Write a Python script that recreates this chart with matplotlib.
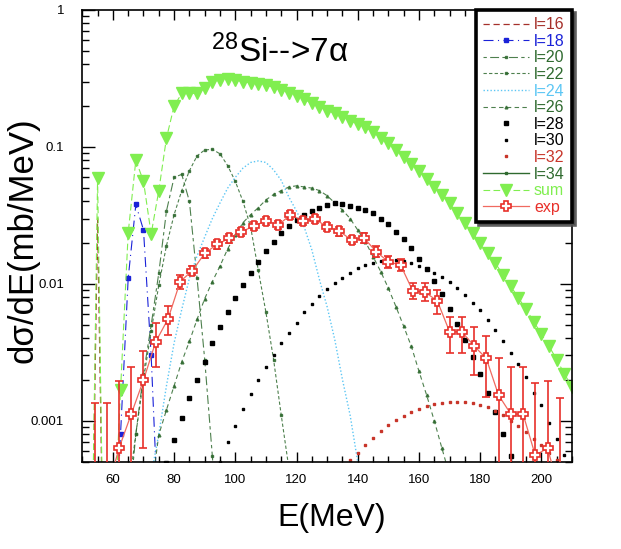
import matplotlib
matplotlib.use("Agg")
import matplotlib.pyplot as plt
from matplotlib.ticker import MultipleLocator, FixedLocator, FixedFormatter, NullFormatter, LogLocator

plt.rcParams['font.family'] = ['Liberation Sans', 'DejaVu Sans']
plt.rcParams['mathtext.fontset'] = 'custom'
plt.rcParams['mathtext.rm'] = 'Liberation Sans'
plt.rcParams['mathtext.default'] = 'regular'

# ---- data (E in MeV, dsigma/dE in mb/MeV) ----
l16_E = [52.5, 55, 57.5]
l16 = [1e-5, 0.030, 1e-5]

l18_E = [60, 62.5, 65, 67.5, 70, 72.5, 75]
l18 = [5e-5, 8e-4, 0.011, 0.038, 0.0247, 0.003, 1.5e-4]

l20_E = [65, 67.5, 70, 72.5, 75, 77.5, 80, 82.5, 85, 87.5, 90, 92.5, 95]
l20 = [2e-4, 8e-4, 0.0022, 0.005, 0.012, 0.034, 0.060, 0.063, 0.040, 0.011, 0.0028, 5.5e-4, 8e-5]

l22_E = [65, 67.5, 70, 72.5, 75, 77.5, 80, 82.5, 85, 87.5, 90, 92.5, 95, 97.5,
         100, 102.5, 105, 107.5, 110, 112.5, 115, 117.5]
l22 = [3e-4, 8e-4, 0.002, 0.0045, 0.0098, 0.019, 0.032, 0.048, 0.067, 0.086, 0.095,
       0.096, 0.089, 0.073, 0.056, 0.040, 0.026, 0.0126, 0.0062, 0.0028, 0.0011, 4.5e-4]

l24_E = [72.5, 75, 77.5, 80, 82.5, 85, 87.5, 90, 92.5, 95, 97.5, 100, 102.5, 105,
         107.5, 110, 112.5, 115, 117.5, 120, 122.5, 125, 127.5, 130, 132.5, 135, 137.5, 140]
l24 = [4e-4, 8e-4, 0.0018, 0.0037, 0.0065, 0.011, 0.016, 0.022, 0.030, 0.039, 0.050,
       0.060, 0.070, 0.077, 0.079, 0.077, 0.068, 0.057, 0.043, 0.034, 0.026, 0.0177,
       0.0107, 0.0068, 0.0039, 0.0020, 0.0011, 5e-4]

l26_E = [72.5, 75, 77.5, 80, 82.5, 85, 87.5, 90, 92.5, 95, 97.5, 100, 102.5, 105,
         107.5, 110, 112.5, 115, 117.5, 120, 122.5, 125, 127.5, 130, 132.5, 135, 137.5,
         140, 142.5, 145, 147.5, 150, 152.5, 155, 157.5, 160, 162.5, 165, 167.5, 170]
l26 = [3e-4, 7.9e-4, 0.0012, 0.0018, 0.0027, 0.0038, 0.0055, 0.0078, 0.0104, 0.0135,
       0.018, 0.0227, 0.028, 0.032, 0.036, 0.041, 0.045, 0.048, 0.051, 0.052, 0.051,
       0.050, 0.048, 0.044, 0.039, 0.0346, 0.030, 0.0247, 0.0203, 0.0158, 0.0123,
       0.0093, 0.0068, 0.0049, 0.0035, 0.0023, 0.00154, 0.0010, 6.3e-4, 4e-4]

l28_E = [77.5, 80, 82.5, 85, 87.5, 90, 92.5, 95, 97.5, 100, 102.5, 105, 107.5, 110,
         112.5, 115, 117.5, 120, 122.5, 125, 127.5, 130, 132.5, 135, 137.5, 140, 142.5,
         145, 147.5, 150, 152.5, 155, 157.5, 160, 162.5, 165, 167.5, 170, 172.5, 175,
         177.5, 180, 182.5, 185, 187.5, 190, 192.5]
l28 = [4.9e-4, 7.2e-4, 1.04e-3, 1.46e-3, 2.0e-3, 2.7e-3, 3.7e-3, 4.8e-3, 6.2e-3, 7.9e-3,
       9.8e-3, 0.0121, 0.0145, 0.0175, 0.0203, 0.0234, 0.0264, 0.0292, 0.0318, 0.034,
       0.036, 0.0376, 0.0387, 0.0382, 0.0372, 0.036, 0.0346, 0.0327, 0.030, 0.0273,
       0.024, 0.0211, 0.0182, 0.0153, 0.0128, 0.0105, 0.0085, 0.0066, 0.0051, 0.0039,
       0.0029, 0.0022, 0.0016, 0.00115, 8e-4, 5.5e-4, 3.8e-4]

l30_E = [95, 97.5, 100, 102.5, 105, 107.5, 110, 112.5, 115, 117.5, 120, 122.5, 125,
         127.5, 130, 132.5, 135, 137.5, 140, 142.5, 145, 147.5, 150, 152.5, 155, 157.5,
         160, 162.5, 165, 167.5, 170, 172.5, 175, 177.5, 180, 182.5, 185, 187.5, 190,
         192.5, 195, 197.5, 200, 202.5, 205, 207.5, 210]
l30 = [5e-4, 7e-4, 9.2e-4, 1.21e-3, 1.56e-3, 2.0e-3, 2.45e-3, 3.0e-3, 3.7e-3, 4.4e-3,
       5.2e-3, 6.2e-3, 7.1e-3, 8.1e-3, 9.2e-3, 0.0101, 0.0111, 0.0121, 0.013, 0.0137,
       0.0143, 0.0147, 0.015, 0.015, 0.0148, 0.0143, 0.0136, 0.0128, 0.012, 0.0113,
       0.0103, 0.0093, 0.0083, 0.0073, 0.0064, 0.0054, 0.0046, 0.0038, 0.0031, 0.0026,
       0.0021, 0.0016, 0.0013, 9.7e-4, 7.4e-4, 5.6e-4, 4.3e-4]

l32_E = [135, 137.5, 140, 142.5, 145, 147.5, 150, 152.5, 155, 157.5, 160, 162.5, 165,
         167.5, 170, 172.5, 175, 177.5, 180, 182.5, 185, 187.5, 190, 192.5, 195, 197.5,
         200, 202.5, 205, 207.5]
l32 = [4e-4, 5.2e-4, 5.8e-4, 6.7e-4, 7.5e-4, 8.4e-4, 9.3e-4, 1.01e-3, 1.08e-3, 1.15e-3,
       1.22e-3, 1.28e-3, 1.32e-3, 1.35e-3, 1.38e-3, 1.38e-3, 1.38e-3, 1.34e-3, 1.30e-3,
       1.27e-3, 1.18e-3, 1.10e-3, 1.0e-3, 9.1e-4, 8.3e-4, 7.4e-4, 6.6e-4, 5.8e-4,
       5.2e-4, 4.6e-4]

# l=34 stays below the lower limit of the plot
l34_E = [170, 180, 190, 200, 210]
l34 = [1.5e-4, 2.2e-4, 2.6e-4, 2.4e-4, 2.0e-4]

sum_E = [52.5, 55, 57.5, 60, 62.5, 65, 67.5, 70, 72.5, 75, 77.5, 80, 82.5, 85, 87.5,
         90, 92.5, 95, 97.5, 100, 102.5, 105, 107.5, 110, 112.5, 115, 117.5, 120, 122.5,
         125, 127.5, 130, 132.5, 135, 137.5, 140, 142.5, 145, 147.5, 150, 152.5, 155,
         157.5, 160, 162.5, 165, 167.5, 170, 172.5, 175, 177.5, 180, 182.5, 185, 187.5,
         190, 192.5, 195, 197.5, 200, 202.5, 205, 207.5, 210]
sum_vals = [1e-5, 0.059, 1e-5, 1e-4, 0.00168, 0.0236, 0.080, 0.056, 0.0231, 0.048,
            0.116, 0.199, 0.246, 0.246, 0.246, 0.268, 0.300, 0.308, 0.313, 0.308, 0.300,
            0.294, 0.290, 0.283, 0.272, 0.260, 0.249, 0.235, 0.223, 0.208, 0.197, 0.184,
            0.176, 0.164, 0.155, 0.147, 0.139, 0.129, 0.116, 0.106, 0.095, 0.084, 0.075,
            0.0667, 0.058, 0.0507, 0.0445, 0.039, 0.0327, 0.0277, 0.0234, 0.0199, 0.0167,
            0.0141, 0.0116, 0.0096, 0.0079, 0.0065, 0.0053, 0.0043, 0.0035, 0.0028,
            0.0022, 0.00177]

exp_E = [54, 58, 62, 66, 70, 74, 78, 82, 86, 90, 94, 98, 102, 106, 110, 114, 118, 122,
         126, 130, 134, 138, 142, 146, 150, 154, 158, 162, 166, 170, 174, 178, 182, 186,
         190, 194, 198, 202, 206]
exp_vals = [3e-4, 3e-4, 6.3e-4, 0.00112, 0.00198, 0.00378, 0.00553, 0.0104, 0.0125,
            0.0167, 0.0194, 0.0215, 0.024, 0.0264, 0.0289, 0.0269, 0.0318, 0.0289, 0.0297,
            0.0261, 0.0242, 0.0209, 0.0217, 0.0172, 0.0145, 0.0137, 0.00886, 0.0087,
            0.0075, 0.00447, 0.00447, 0.00352, 0.00285, 0.00154, 0.00112, 0.00112,
            5.6e-4, 6.3e-4, 3e-4]
exp_lo = [1e-5, 1e-5, 1e-5, 1e-5, 6.3e-4, 0.00245, 0.0042, 0.0091, 0.0116, 0.0155,
          0.018, 0.020, 0.0224, 0.0246, 0.0269, 0.025, 0.0296, 0.0269, 0.0276, 0.0243,
          0.0225, 0.0194, 0.020, 0.0157, 0.0131, 0.0124, 0.0077, 0.0075, 0.0060,
          0.00315, 0.00315, 0.00216, 0.0015, 1e-5, 1e-5, 1e-5, 1e-5, 1e-5, 1e-5]
exp_hi = [0.00134, 0.00134, 0.00196, 0.00245, 0.00325, 0.0052, 0.0069, 0.0117, 0.0135,
          0.0179, 0.0208, 0.023, 0.0256, 0.0282, 0.0309, 0.0288, 0.034, 0.0309, 0.0318,
          0.0279, 0.0259, 0.0224, 0.0234, 0.0188, 0.016, 0.0151, 0.0102, 0.0101, 0.009,
          0.0057, 0.0057, 0.0048, 0.00417, 0.00285, 0.00245, 0.00245, 0.00188, 0.00196,
          0.00146]

DKGREEN = '#2f6a2f'

fig = plt.figure(figsize=(6.21, 5.49), dpi=100)
ax = fig.add_axes([0.1325, 0.1585, 0.7886, 0.8233])

ax.plot(l16_E, l16, color='#a5302a', lw=0.9, ls=(0, (5, 3)), label='l=16')
ax.plot(l18_E, l18, color='#1a22d8', lw=0.8, ls=(0, (9, 4, 1, 4)), marker='s', ms=2.5, label='l=18')
ax.plot(l20_E, l20, color=DKGREEN, lw=0.8, ls=(0, (3, 3, 8, 3)), marker='s', ms=2, alpha=0.85, label='l=20')
ax.plot(l22_E, l22, color=DKGREEN, lw=0.8, ls=(0, (3, 2)), marker='s', ms=2, alpha=0.85, label='l=22')
ax.plot(l24_E, l24, color='#5cc6f4', lw=1.0, ls=(0, (1, 1.5)), label='l=24')
ax.plot(l26_E, l26, color=DKGREEN, lw=0.8, ls=(0, (4, 3)), marker='^', ms=2, alpha=0.85, label='l=26')
ax.plot(l28_E, l28, color='black', ls='none', marker='s', ms=2.8, label='l=28')
ax.plot(l30_E, l30, color='black', ls='none', marker='s', ms=2.0, label='l=30')
ax.plot(l32_E, l32, color='#c8352a', ls='none', marker='s', ms=1.8, label='l=32')
ax.plot(l34_E, l34, color=DKGREEN, lw=1.0, marker='s', ms=2, label='l=34')
ax.plot(sum_E, sum_vals, color='#80ee50', lw=0.8, ls=(0, (6, 3)), marker='v', ms=8,
        mec='#80ee50', label='sum')

yerr = [[v - lo for v, lo in zip(exp_vals, exp_lo)],
        [hi - v for v, hi in zip(exp_vals, exp_hi)]]
ax.errorbar(exp_E, exp_vals, yerr=yerr, fmt='none', ecolor='#e8302a', elinewidth=1.2,
            capsize=3, capthick=1.2, zorder=4)
ax.plot(exp_E, exp_vals, color='#f06a60', lw=0.9, marker='P', ms=7.5, mfc='white',
        mec='#e8302a', mew=1.2, zorder=5, label='exp')

ax.set_yscale('log')
ax.set_xlim(50, 210)
ax.set_ylim(5e-4, 1)

ax.xaxis.set_major_locator(FixedLocator([60, 80, 100, 120, 140, 160, 180, 200]))
ax.xaxis.set_minor_locator(MultipleLocator(5))
ax.yaxis.set_major_locator(FixedLocator([0.001, 0.01, 0.1, 1]))
ax.yaxis.set_major_formatter(FixedFormatter(['0.001', '0.01', '0.1', '1']))
ax.yaxis.set_minor_locator(LogLocator(base=10, subs=range(2, 10)))
ax.yaxis.set_minor_formatter(NullFormatter())

ax.tick_params(which='both', direction='in', top=True, right=True, width=1.0)
ax.tick_params(axis='x', which='major', length=7, pad=9, labelsize=9.5)
ax.tick_params(axis='x', which='minor', length=4.5)
ax.tick_params(axis='y', which='major', length=9, pad=13, labelsize=9.5)
ax.tick_params(axis='y', which='minor', length=5)
for sp in ax.spines.values():
    sp.set_linewidth(1.2)

ax.text(0.404, 0.885, r'$^{28}$Si-->7α', transform=ax.transAxes, ha='center',
        va='baseline', fontsize=24)

fig.text(332 / 621, 1 - 518 / 549, 'E(MeV)', ha='center', va='center', fontsize=23)
fig.text(23 / 621, 1 - 240 / 549, 'dσ/dE(mb/MeV)', ha='center', va='center',
         rotation=90, fontsize=25)

leg = ax.legend(loc='upper right', bbox_to_anchor=(1.0, 1.0), borderaxespad=0,
                fontsize=11.5, labelspacing=0.1, handlelength=2.9, handletextpad=0.3,
                borderpad=0.45, fancybox=False, framealpha=1, edgecolor='black',
                shadow={'color': '0.3', 'alpha': 0.9})
leg.get_frame().set_linewidth(2.6)
leg.set_zorder(10)
text_colors = ['#a5302a', '#1a22d8', DKGREEN, DKGREEN, '#5cc6f4', DKGREEN, 'black',
               'black', '#c8352a', DKGREEN, '#80ee50', '#e8302a']
for t, c in zip(leg.get_texts(), text_colors):
    t.set_color(c)

fig.savefig('out.png', dpi=100)
